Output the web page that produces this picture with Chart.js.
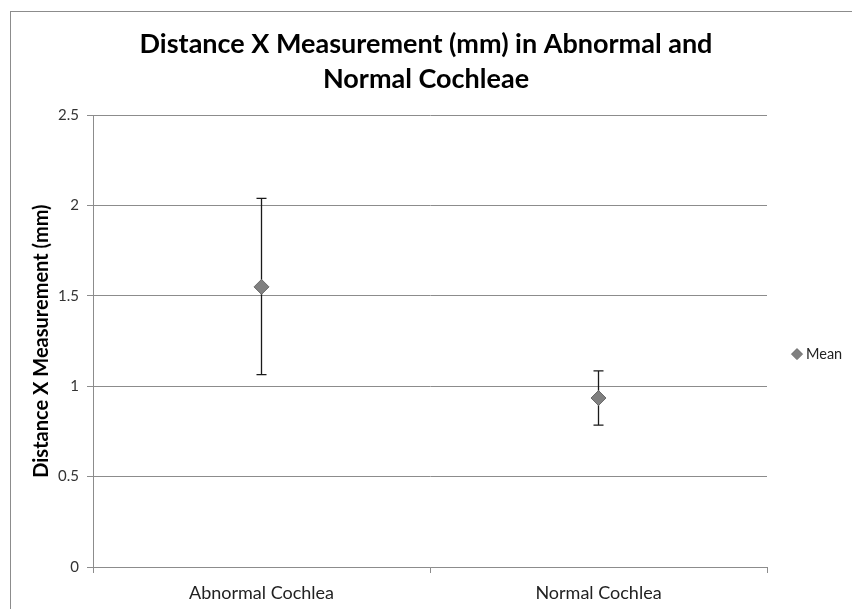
<!DOCTYPE html>
<html>
<head>
<meta charset="utf-8">
<script src="https://cdn.jsdelivr.net/npm/chart.js@4"></script>
<style>
  body { margin: 0; background: #fff; }
  #wrap { width: 852px; height: 609px; }
</style>
</head>
<body>
<div id="wrap"><canvas id="myChart" width="852" height="609"></canvas></div>
<script>
// data
var categories = ["Abnormal Cochlea", "Normal Cochlea"];
var meanValues = [1.55, 0.935];
var upperValues = [2.04, 1.085];
var lowerValues = [1.065, 0.785];
var yTicks = [0, 0.5, 1, 1.5, 2, 2.5];

var fontFam = "Lato, 'Open Sans', sans-serif";

// error bars, drawn through the chart's own scales
var errorBars = {
    id: "errorBars",
    beforeDatasetsDraw: function(chart) {
        var ctx = chart.ctx;
        var xs = chart.scales.x;
        var ys = chart.scales.y;
        ctx.save();
        ctx.strokeStyle = "#1a1a1a";
        ctx.lineWidth = 1.3;
        for (var i = 0; i < categories.length; i++) {
            var x = xs.getPixelForValue(i);
            var top = ys.getPixelForValue(upperValues[i]);
            var bot = ys.getPixelForValue(lowerValues[i]);
            ctx.beginPath();
            ctx.moveTo(x, top);
            ctx.lineTo(x, bot);
            ctx.moveTo(x - 5, top);
            ctx.lineTo(x + 5, top);
            ctx.moveTo(x - 5, bot);
            ctx.lineTo(x + 5, bot);
            ctx.stroke();
        }
        ctx.restore();
    }
};

// legend to the right of the plot, a bit below its middle (like the original)
var sideLegend = {
    id: "sideLegend",
    afterDraw: function(chart) {
        var ctx = chart.ctx;
        var area = chart.chartArea;
        var ds = chart.data.datasets[0];
        var x = area.right + 30;
        var y = (area.top + area.bottom) / 2 + 13;
        ctx.save();
        ctx.beginPath();
        ctx.moveTo(x, y - 5.5);
        ctx.lineTo(x + 5.5, y);
        ctx.lineTo(x, y + 5.5);
        ctx.lineTo(x - 5.5, y);
        ctx.closePath();
        ctx.fillStyle = ds.backgroundColor;
        ctx.fill();
        ctx.strokeStyle = ds.borderColor;
        ctx.lineWidth = 1;
        ctx.stroke();
        ctx.fillStyle = "#222";
        ctx.font = "14.5px " + fontFam;
        ctx.textBaseline = "middle";
        ctx.fillText(ds.label, x + 9, y);
        ctx.restore();
    }
};

// thin frame round the whole chart
var frame = {
    id: "frame",
    afterDraw: function(chart) {
        var ctx = chart.ctx;
        ctx.save();
        ctx.strokeStyle = "#8c8c8c";
        ctx.lineWidth = 1;
        ctx.strokeRect(10.5, 11.5, 900, 700);
        ctx.restore();
    }
};

var myChart = document.getElementById("myChart").getContext("2d");

var meanChart = new Chart(myChart, {
    type: "line",
    data: {
        labels: categories,
        datasets: [{
            label: "Mean",
            data: meanValues,
            showLine: false,
            pointStyle: "rectRot",
            pointRadius: 7.5,
            pointHoverRadius: 7.5,
            backgroundColor: "#808080",
            borderColor: "#6a6a6a",
            borderWidth: 1
        }]
    },
    options: {
        responsive: false,
        animation: false,
        events: [],
        layout: {
            padding: { top: 0, left: 0, right: 0, bottom: 10 }
        },
        plugins: {
            title: {
                display: true,
                text: ["Distance X Measurement (mm) in Abnormal and", "Normal Cochleae"],
                color: "#000",
                font: { family: fontFam, size: 27, weight: "bold", lineHeight: 1.3 },
                padding: { top: 27, bottom: 18 },
                fullSize: true
            },
            legend: { display: false },
            tooltip: { enabled: false }
        },
        scales: {
            x: {
                type: "category",
                offset: true,
                afterFit: function(axis) { axis.height = 32; },
                grid: {
                    offset: true,
                    drawOnChartArea: false,
                    drawTicks: true,
                    tickLength: 6,
                    color: "#8c8c8c"
                },
                border: { color: "#8c8c8c" },
                ticks: {
                    color: "#222",
                    padding: 9,
                    font: { family: fontFam, size: 18 }
                }
            },
            y: {
                min: 0,
                max: 2.5,
                afterFit: function(axis) { axis.width = 93; },
                afterBuildTicks: function(axis) {
                    axis.ticks = yTicks.map(function(v) { return { value: v }; });
                },
                grid: {
                    color: "#8c8c8c",
                    tickLength: 6
                },
                border: { color: "#8c8c8c" },
                ticks: {
                    color: "#333",
                    padding: 8,
                    font: { family: fontFam, size: 15 },
                    callback: function(v) { return String(v); }
                },
                title: {
                    display: true,
                    text: "Distance X Measurement (mm)",
                    color: "#000",
                    font: { family: fontFam, size: 20, weight: "bold" },
                    padding: { top: 30, bottom: 10 }
                }
            },
            // empty right-hand strip that leaves room for the legend
            legendSpace: {
                type: "linear",
                position: "right",
                min: 0,
                max: 1,
                afterFit: function(axis) { axis.width = 85; },
                grid: { display: false },
                border: { display: false },
                ticks: { display: false }
            }
        }
    },
    plugins: [errorBars, sideLegend, frame]
});
</script>
</body>
</html>
